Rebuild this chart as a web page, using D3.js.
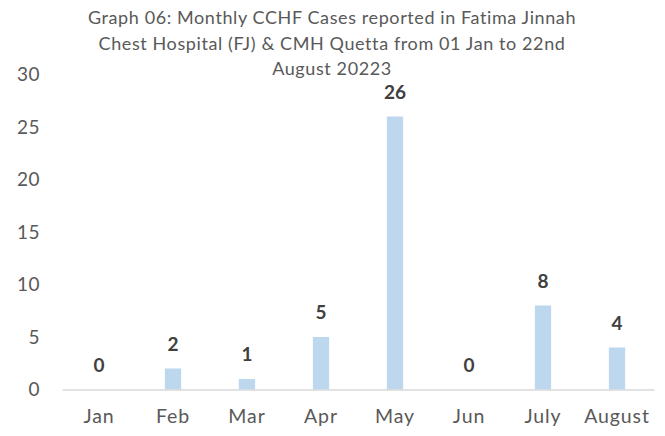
<!DOCTYPE html>
<html>
<head>
<meta charset="utf-8">
<script src="https://cdn.jsdelivr.net/npm/d3@7"></script>
<style>
  body { margin: 0; background: #fff; }
  svg { display: block; font-family: Lato, "Open Sans", sans-serif; }
</style>
</head>
<body>
<div class="container"></div>
<script>
const months = ["Jan", "Feb", "Mar", "Apr", "May", "Jun", "July", "August"];
const cases = [0, 2, 1, 5, 26, 0, 8, 4];
const yTicks = [0, 5, 10, 15, 20, 25, 30];
const titleLines = [
  "Graph 06: Monthly CCHF Cases reported in Fatima Jinnah",
  "Chest Hospital (FJ) & CMH Quetta from 01 Jan to 22nd",
  "August 20223"
];

const width = 665;
const height = 436;
const margin = { top: 74.5, right: 11, bottom: 46.5, left: 62 };

const svg = d3.select(".container")
  .append("svg")
  .attr("width", width)
  .attr("height", height);

// title
svg.append("g")
  .selectAll("text")
  .data(titleLines)
  .join("text")
  .attr("x", 332)
  .attr("y", (d, i) => 24 + i * 25.5)
  .attr("text-anchor", "middle")
  .attr("font-size", 18)
  .attr("letter-spacing", 0.6)
  .attr("fill", "#595959")
  .text(d => d);

const xScale = d3.scaleBand()
  .domain(months)
  .range([margin.left, width - margin.right])
  .paddingInner(0.78)
  .paddingOuter(0.39);

const yScale = d3.scaleLinear()
  .domain([0, 30])
  .range([height - margin.bottom, margin.top]);

// y axis labels (no line, no ticks)
const yAxis = svg.append("g")
  .attr("transform", `translate(${margin.left},0)`)
  .call(d3.axisLeft(yScale).tickValues(yTicks).tickSize(0).tickPadding(22));
yAxis.select(".domain").remove();
yAxis.selectAll("text")
  .attr("font-family", "Lato, sans-serif")
  .attr("font-size", 19)
  .attr("letter-spacing", 0.5)
  .attr("fill", "#595959");

// bars
svg.append("g")
  .selectAll("rect")
  .data(cases)
  .join("rect")
  .attr("x", (d, i) => xScale(months[i]))
  .attr("width", xScale.bandwidth())
  .attr("y", d => yScale(d))
  .attr("height", d => yScale(0) - yScale(d))
  .attr("fill", "#bdd7ee");

// x axis
const xAxis = svg.append("g")
  .attr("transform", `translate(0,${yScale(0)})`)
  .call(d3.axisBottom(xScale).tickSize(0).tickPadding(20).tickSizeOuter(0));
xAxis.select(".domain")
  .attr("stroke", "#d9d9d9")
  .attr("stroke-width", 1.5);
xAxis.selectAll("text")
  .attr("font-family", "Lato, sans-serif")
  .attr("font-size", 19.5)
  .attr("letter-spacing", 0.9)
  .attr("fill", "#595959");

// data labels
svg.append("g")
  .selectAll("text")
  .data(cases)
  .join("text")
  .attr("x", (d, i) => xScale(months[i]) + xScale.bandwidth() / 2)
  .attr("y", d => yScale(d) - 18)
  .attr("text-anchor", "middle")
  .attr("font-size", 19)
  .attr("font-weight", "bold")
  .attr("fill", "#404040")
  .text(d => d);
</script>
</body>
</html>
